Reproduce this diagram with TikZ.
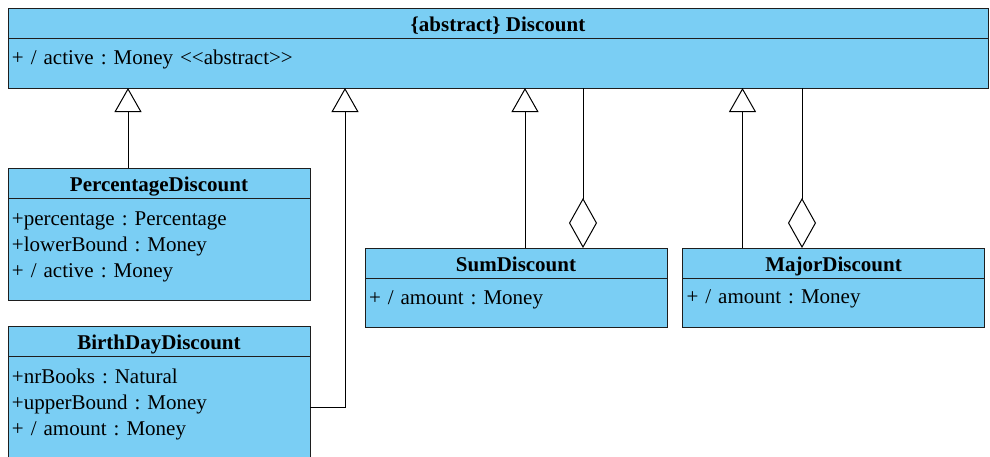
\documentclass[tikz,border=0pt]{standalone}
\usepackage{fontspec}
\setmainfont{Liberation Serif}
\usetikzlibrary{arrows.meta,positioning,calc}
\definecolor{CF}{HTML}{7ACEF4}
\definecolor{CL}{HTML}{1E1E1E}
\frenchspacing

\begin{document}
\begin{tikzpicture}[x=1pt,y=-1pt,
    font=\fontsize{21pt}{26pt}\selectfont,
    classhead/.style={draw=CL, fill=CF, line width=1pt, outer sep=0pt,
      inner sep=0pt, minimum width=#1, text height=23pt, text depth=7pt,
      font=\fontsize{21pt}{26pt}\selectfont\bfseries},
    classbody/.style={draw=CL, fill=CF, line width=1pt, outer sep=0pt,
      inner xsep=4pt, inner ysep=0pt, text width=#1, align=left},
    inherit/.style={line width=1pt, -{Triangle[open,length=24pt,width=27pt]}},
    aggr/.style={line width=1pt, -{Diamond[open,length=50pt,width=28pt]}}]
  \useasboundingbox (0,0) rectangle (990,456);

  \node[classhead=980pt, anchor=north west] (dischead) at (8,8) {\{abstract\} Discount};
  \node[classbody=972pt, text height=26pt, text depth=24pt, below=0pt of dischead] (discbody)
    {+ / active : Money \mbox{<}\mbox{<}abstract\mbox{>}\mbox{>}};

  \node[classhead=302pt, anchor=north west] (pcthead) at (8,168) {PercentageDiscount};
  \node[classbody=294pt, text height=27pt, text depth=75pt, below=0pt of pcthead] (pctbody)
    {+percentage : Percentage\\+lowerBound : Money\\+ / active : Money};

  \node[classhead=302pt, below=26pt of pctbody] (bdhead) {BirthDayDiscount};
  \node[classbody=294pt, text height=27pt, text depth=75pt, below=0pt of bdhead] (bdbody)
    {+nrBooks : Natural\\+upperBound : Money\\+ / amount : Money};

  \node[classhead=302pt, anchor=north west] (sumhead) at (365,248) {SumDiscount};
  \node[classbody=294pt, text height=26pt, text depth=23pt, below=0pt of sumhead] (sumbody)
    {+ / amount : Money};

  \node[classhead=302pt, right=15.5pt of sumhead] (majhead) {MajorDiscount};
  \node[classbody=294pt, text height=25pt, text depth=24pt, below=0pt of majhead] (majbody)
    {+ / amount : Money};

  \coordinate (pctup) at ([xshift=120pt]pcthead.north west);
  \coordinate (bdout) at ([yshift=-51pt]bdbody.north east);
  \coordinate (sumup) at ([xshift=160pt]sumhead.north west);
  \coordinate (sumagg) at ([xshift=218pt]sumhead.north west);
  \coordinate (majup) at ([xshift=60pt]majhead.north west);
  \coordinate (majagg) at ([xshift=119.5pt]majhead.north west);

  \draw[inherit] (pctup) -- (pctup |- discbody.south);
  \draw[inherit] (bdout) -| ($(bdout |- discbody.south)+(35,0)$);
  \draw[inherit] (sumup) -- (sumup |- discbody.south);
  \draw[aggr] (sumagg |- discbody.south) -- (sumagg);
  \draw[inherit] (majup) -- (majup |- discbody.south);
  \draw[aggr] (majagg |- discbody.south) -- (majagg);
\end{tikzpicture}
\end{document}
